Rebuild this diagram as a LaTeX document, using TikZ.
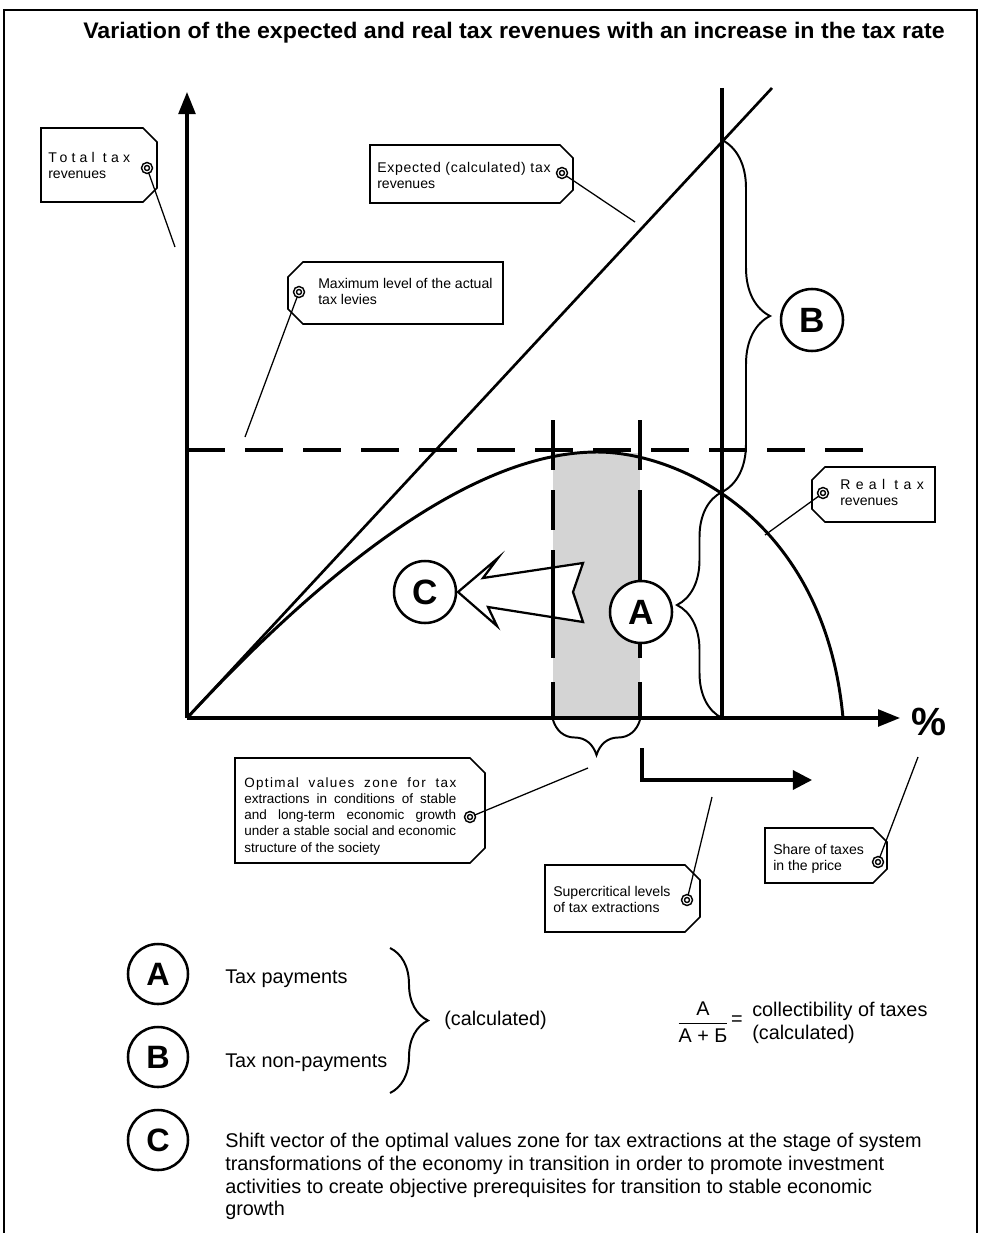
\documentclass[tikz,border=0pt]{standalone}
\usepackage{fontspec}
\setmainfont{Liberation Sans}
\usepackage{tikz}
\usetikzlibrary{positioning,arrows.meta,decorations.pathreplacing}
\newfontfamily\widespaced[LetterSpace=38]{Liberation Sans}
\newfontfamily\midspaced[LetterSpace=30]{Liberation Sans}
\newfontfamily\spaced[LetterSpace=10]{Liberation Sans}
\newfontfamily\lightspaced[LetterSpace=5]{Liberation Sans}
\newcommand{\tagfont}{\fontsize{10}{11.2}\selectfont}
\newcommand{\legfont}{\fontsize{14.1}{16}\selectfont}
% tag outlines: left, top, right, bottom, cut
\newcommand{\tagR}[5]{(#1,#2) -- (#3-#5,#2) -- (#3,#2+#5) -- (#3,#4-#5) -- (#3-#5,#4) -- (#1,#4) -- cycle}
\newcommand{\tagL}[5]{(#3,#2) -- (#1+#5,#2) -- (#1,#2+#5) -- (#1,#4-#5) -- (#1+#5,#4) -- (#3,#4) -- cycle}

\begin{document}
\begin{tikzpicture}[x=0.25mm,y=-0.25mm,
  frame/.style={line width=1.2pt},
  axis/.style={line width=2.2pt,-{Triangle[length=5.5mm,width=4.2mm]}},
  expline/.style={line width=1.9pt},
  maxline/.style={line width=2.2pt,dash pattern=on 9.5mm off 5mm},
  realcurve/.style={line width=2.1pt},
  zone/.style={fill=black!17,draw=none},
  tagline/.style={line width=1.1pt,fill=white},
  ring/.style={circle,draw,fill=white,line width=1.1pt,double=white,double distance=0.8pt,minimum size=2mm,inner sep=0pt},
  leader/.style={line width=0.9pt},
  tagtext/.style={font=\tagfont,align=left,anchor=north west,inner sep=0pt},
  letter/.style={circle,draw,line width=1.8pt,fill=white,minimum size=15.5mm,inner sep=0pt,font=\fontsize{25}{25}\selectfont\bfseries},
  brace/.style={decorate,decoration={brace,amplitude=#1},line width=1.4pt},
  shiftarrow/.style={line width=1.6pt,fill=white,line join=miter},
  superarrow/.style={line width=2.2pt,-{Triangle[length=4.8mm,width=4.8mm]}},
  legtext/.style={font=\legfont,anchor=base west,inner sep=0pt,align=left}]
\useasboundingbox (0,0) rectangle (982,1233);

% frame and title
\draw[frame] (4,1233) -- (4,10) -- (977,10) -- (977,1233);
\node[font=\fontsize{16}{18}\selectfont\bfseries] (title) at (514,33)
  {\scalebox{1.03}[1]{Variation of the expected and real tax revenues with an increase in the tax rate}};

% chart points
\coordinate (O) at (187,718);
\coordinate (yTop) at (187,92);
\coordinate (xEnd) at (900,718);
\coordinate (expEnd) at (772,88);
\coordinate (vTop) at (722,88);
\coordinate (vBot) at (722,718);
\coordinate (maxL) at (187,450);
\coordinate (maxR) at (878,450);
\coordinate (peak) at (597,452);
\coordinate (realEnd) at (843,718);

% optimal zone
\fill[zone] (553,453) rectangle (640,718);

\draw[maxline] (maxL) -- (maxR);
\draw[axis] (O) -- (yTop);
\draw[axis] (O) -- (xEnd);
\draw[expline] (O) -- (expEnd);
\draw[axis,-] (vTop) -- (vBot);
\draw[realcurve] (O) .. controls (337,556) and (480,452) .. (peak)
  .. controls (680,452) and (825,520) .. (realEnd);
\node[font=\fontsize{28}{28}\selectfont\bfseries] (pct) at (929,722) {\%};

% braces A and B
\draw[brace=11.25mm] (722,718) -- (722,492);
\draw[brace=12mm] (722,140) -- (722,492);
\draw[brace=8.75mm] (640,720) -- (553,720);

% shift vector
\draw[shiftarrow] (458,592) -- (498,558) -- (483,578) -- (583,563) -- (573,592)
  -- (583,622) -- (488,607) -- (497,626) -- cycle;

% zone borders
\draw[line width=2.2pt,dash pattern=on 12.5mm off 5mm on 10mm off 5mm on 27mm off 6mm on 16mm]
  (553,420) -- (553,718);
\draw[line width=2.2pt,dash pattern=on 12.5mm off 5mm on 42mm off 6mm on 10mm]
  (640,420) -- (640,718);

% supercritical arrow
\coordinate (supA) at (642,748);
\coordinate (supB) at (642,780);
\coordinate (supC) at (812,780);
\draw[superarrow] (supA) -- (supB) -- (supC);

\node[letter] (cC) at (425,592) {C};
\node[letter] (cA) at (641,612) {A};
\node[letter] (cB) at (812,320) {B};

% tags
\draw[tagline] \tagR{41}{128}{157}{202}{14};
\node[ring] (rTotal) at (147,168) {};
\coordinate (eTotal) at (175,247);
\draw[leader] (rTotal) -- (eTotal);
\node[tagtext] (tTotal) at (48,152) {{\midspaced Total tax}\\revenues};

\draw[tagline] \tagL{288}{262}{503}{324}{15};
\node[ring] (rMax) at (299,292) {};
\coordinate (eMax) at (245,437);
\draw[leader] (rMax) -- (eMax);
\node[tagtext] (tMax) at (318,278) {Maximum level of the actual\\tax levies};

\draw[tagline] \tagR{370}{145}{573}{203}{13};
\node[ring] (rExp) at (562,173) {};
\coordinate (eExp) at (635,222);
\draw[leader] (rExp) -- (eExp);
\node[tagtext] (tExp) at (377,162) {{\lightspaced Expected (calculated) tax}\\revenues};

\draw[tagline] \tagL{812}{467}{935}{522}{13};
\node[ring] (rReal) at (823,493) {};
\coordinate (eReal) at (765,535);
\draw[leader] (rReal) -- (eReal);
\node[tagtext] (tReal) at (840,479) {{\widespaced Real tax}\\revenues};

\draw[tagline] \tagR{235}{758}{485}{863}{15};
\node[ring] (rOpt) at (470,817) {};
\coordinate (eOpt) at (588,768);
\draw[leader] (rOpt) -- (eOpt);
\node[tagtext,font=\fontsize{9.6}{11.6}\selectfont] (tOpt) at (244,777)
  {\makebox[53mm][s]{\spaced Optimal values zone for tax}\\
   \makebox[53mm][s]{extractions in conditions of stable}\\
   \makebox[53mm][s]{and long-term economic growth}\\
   \makebox[53mm][s]{under a stable social and economic}\\
   structure of the society};

\draw[tagline] \tagR{545}{865}{700}{932}{15};
\node[ring] (rSup) at (687,900) {};
\coordinate (eSup) at (712,797);
\draw[leader] (rSup) -- (eSup);
\node[tagtext] (tSup) at (553,886) {Supercritical levels\\of tax extractions};

\draw[tagline] \tagR{765}{828}{887}{883}{14};
\node[ring] (rShare) at (878,862) {};
\coordinate (eShare) at (918,757);
\draw[leader] (rShare) -- (eShare);
\node[tagtext] (tShare) at (773,844) {Share of taxes\\in the price};

% legend
\node[letter,minimum size=15mm,font=\fontsize{23}{23}\selectfont\bfseries] (lA) at (158,974) {A};
\node[letter,minimum size=15mm,font=\fontsize{23}{23}\selectfont\bfseries] (lB) at (158,1057) {B};
\node[letter,minimum size=15mm,font=\fontsize{23}{23}\selectfont\bfseries] (lC) at (158,1140) {C};
\node[legtext] (txA) at (225,983) {Tax payments};
\node[legtext] (txB) at (225,1067) {Tax non-payments};
\draw[brace=9.5mm] (390,948) -- (390,1093);
\node[legtext] (calc) at (444,1025) {(calculated)};
\node[font=\legfont,inner sep=0pt] (frac) at (703,1022) {$\displaystyle\frac{\mbox{A}}{\mbox{A + Б}}$};
\node[font=\legfont,inner sep=0pt] (eq) at (737,1021) {=};
\node[font=\legfont,anchor=west,align=left,inner sep=0pt] (collect) at (752,1023)
  {collectibility of taxes\\(calculated)};
\node[legtext,anchor=north west,font=\fontsize{14.1}{16.2}\selectfont] (txC) at (225,1133)
  {Shift vector of the optimal values zone for tax extractions at the stage of system\\
   transformations of the economy in transition in order to promote investment\\
   activities to create objective prerequisites for transition to stable economic\\
   growth};
\end{tikzpicture}
\end{document}
